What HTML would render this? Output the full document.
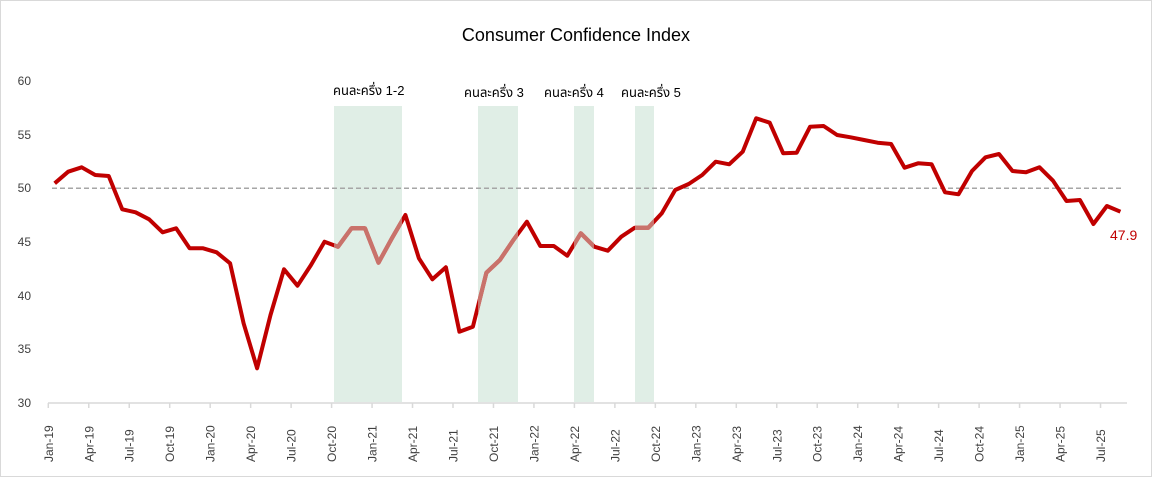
<!DOCTYPE html>
<html><head><meta charset="utf-8"><style>
html,body{margin:0;padding:0;background:#fff}
svg{display:block}
text{font-family:"Liberation Sans","Noto Sans Thai","DejaVu Sans",sans-serif}
</style></head><body>
<svg width="1152" height="477" viewBox="0 0 1152 477">
<rect x="0.5" y="0.5" width="1151" height="476" fill="#fff" stroke="#d9d9d9"/>
<text x="576" y="41" font-size="18" text-anchor="middle" fill="#000">Consumer Confidence Index</text>
<g font-size="12" fill="#404040" text-anchor="end">
<text x="31" y="85">60</text><text x="31" y="139">55</text><text x="31" y="192">50</text>
<text x="31" y="246">45</text><text x="31" y="300">40</text><text x="31" y="353">35</text><text x="31" y="407">30</text>
</g>
<g fill="#e0eee6">
<rect x="334" y="106" width="68" height="296"/>
<rect x="478" y="106" width="40" height="296"/>
<rect x="574" y="106" width="20" height="296"/>
<rect x="635" y="106" width="19" height="296"/>
</g>
<g font-size="13" fill="#000">
<text x="333" y="95">คนละครึ่ง 1-2</text>
<text x="464" y="97">คนละครึ่ง 3</text>
<text x="544" y="97">คนละครึ่ง 4</text>
<text x="621" y="97">คนละครึ่ง 5</text>
</g>
<line x1="52" y1="188.3" x2="1122" y2="188.3" stroke="#a6a6a6" stroke-width="1.5" stroke-dasharray="5,3"/>
<line x1="48" y1="403" x2="1127" y2="403" stroke="#d9d9d9" stroke-width="1.5"/>
<g id="ticks" stroke="#d9d9d9" stroke-width="1.5"></g>
<g id="xl" font-size="12" fill="#404040"></g>
<defs><clipPath id="cp">
<rect x="334" y="0" width="68" height="477"/>
<rect x="478" y="0" width="40" height="477"/>
<rect x="574" y="0" width="20" height="477"/>
<rect x="635" y="0" width="19" height="477"/>
</clipPath></defs>
<polyline id="ln" fill="none" stroke="#c00000" stroke-width="4" stroke-linejoin="round"/>
<polyline id="ln2" fill="none" stroke="#c9726b" stroke-width="4.2" stroke-linejoin="round" clip-path="url(#cp)"/>
<text x="1110" y="240" font-size="14" fill="#c00000">47.9</text>
</svg>
<script>
var ys=[183.3,171.7,167.3,175,176,209.3,212.3,219.3,232.3,228.3,248.3,248.3,252.3,263.3,323.3,368.3,315,269.3,285.7,265,241.7,246.7,228.3,228.3,262.7,238.3,215,258.3,279.3,267.3,331.7,326.7,272.7,260,240,221.7,246,246,255.7,233.3,246.7,250.7,236.7,227.7,227.7,213.3,190,184,175,161.7,164.3,151.7,118.3,122.7,153.3,152.7,126.7,126,135,137.3,140,142.7,144,167.7,163.3,164.3,192.3,194.3,171,157.3,154,171,172.3,167.3,180.7,201,200,224,206,211.7];
var p=ys.map(function(y,i){return (54.7+13.49*i).toFixed(1)+","+y}).join(" ");
document.getElementById("ln").setAttribute("points",p);
document.getElementById("ln2").setAttribute("points",p);
var ns="http://www.w3.org/2000/svg",m=["Jan","Apr","Jul","Oct"],t=document.getElementById("ticks"),xl=document.getElementById("xl");
for(var k=0;k<27;k++){var x=48.3+13.49*3*k;
var l=document.createElementNS(ns,"line");l.setAttribute("x1",x);l.setAttribute("x2",x);l.setAttribute("y1",403);l.setAttribute("y2",408);t.appendChild(l);
var tx=document.createElementNS(ns,"text");var lx=x+4.5;
tx.setAttribute("transform","translate("+lx+",462) rotate(-90)");
tx.textContent=m[k%4]+"-"+(19+Math.floor(k/4));xl.appendChild(tx);}
</script>
</body></html>
